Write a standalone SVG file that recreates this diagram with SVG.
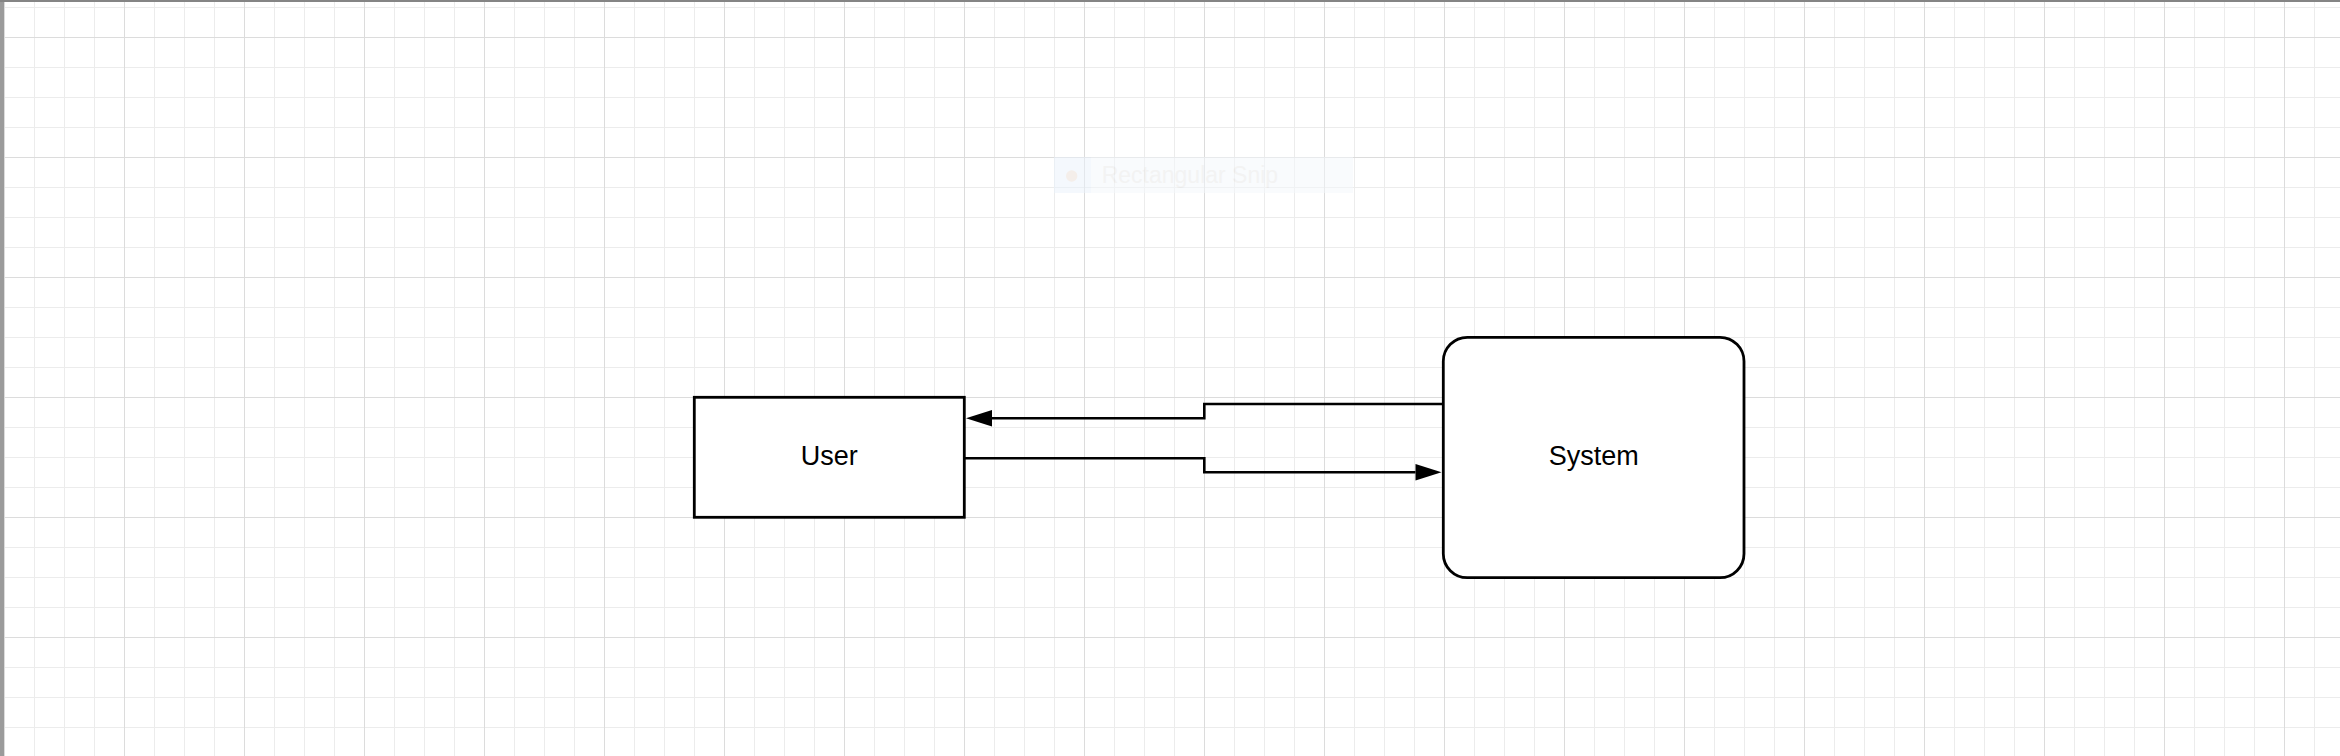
<svg xmlns="http://www.w3.org/2000/svg" width="2340" height="756" viewBox="0 0 2340 756">
<style>
.node{fill:#ffffff;stroke:#000000;stroke-width:2.8}
.lbl{font-family:"Liberation Sans",Arial,sans-serif;font-size:27px;fill:#000000;text-anchor:middle}
.conn{fill:none;stroke:#000000;stroke-width:2.6}
</style>
<defs>
<pattern id="minor" x="4" y="7" width="30" height="30" patternUnits="userSpaceOnUse">
<path d="M0.5 0 V30 M0 0.5 H30" stroke="#ececec" stroke-width="1" fill="none"/>
</pattern>
<pattern id="major" x="4" y="37" width="120" height="120" patternUnits="userSpaceOnUse">
<path d="M0.5 0 V120 M0 0.5 H120" stroke="#dcdcdc" stroke-width="1" fill="none"/>
</pattern>
<marker id="arrow" markerUnits="userSpaceOnUse" markerWidth="27" markerHeight="18" refX="0" refY="8.3" orient="auto" overflow="visible">
<path d="M0,0 L26,8.3 L0,16.6 Z" fill="#000000"/>
</marker>
</defs>
<rect width="2340" height="756" fill="#ffffff"/>
<rect width="2340" height="756" fill="url(#minor)"/>
<rect width="2340" height="756" fill="url(#major)"/>
<rect x="0" y="0" width="4" height="756" fill="#9b9b9b"/>
<rect x="0" y="0" width="2340" height="2" fill="#858585"/>
<g id="snip-overlay" opacity="0.5">
<rect x="1054" y="157" width="299" height="36" fill="#f4f8fd"/>
<rect x="1054" y="157" width="37" height="36" fill="#eaf2fc"/>
<circle cx="1071.7" cy="176" r="5.7" fill="#ebdfd6"/>
<text x="1101.7" y="183" font-family="'Liberation Sans',Arial,sans-serif" font-size="23" fill="#e8e8e8">Rectangular Snip</text>
</g>
<g id="connectors">
<path class="conn" d="M1443.3 404 H1204.3 V418.3 H992" marker-end="url(#arrow)"/>
<path class="conn" d="M964.3 458.3 H1204.3 V472.3 H1415.5" marker-end="url(#arrow)"/>
</g>
<g id="node-user">
<rect class="node" x="694.3" y="397.3" width="270" height="120"/>
<text class="lbl" x="829.3" y="465">User</text>
</g>
<g id="node-system">
<rect class="node" x="1443.3" y="337.3" width="300.7" height="240.4" rx="24" ry="24"/>
<text class="lbl" x="1593.7" y="465">System</text>
</g>
</svg>
